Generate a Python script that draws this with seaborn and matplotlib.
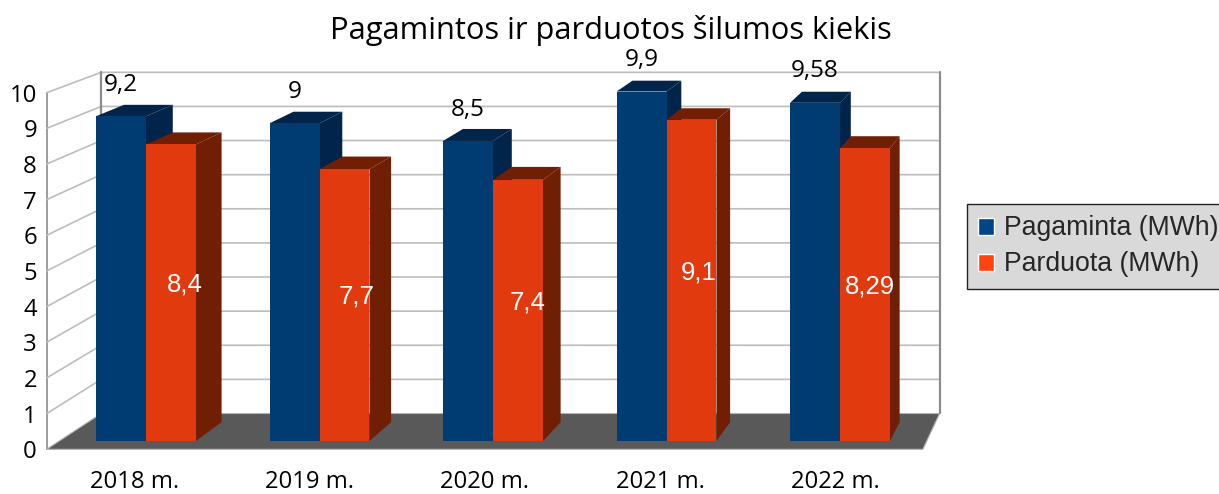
import numpy as np
import pandas as pd
import matplotlib
matplotlib.use("Agg")
import matplotlib.pyplot as plt
import seaborn as sns
from matplotlib.patches import Patch, Polygon

# === DATA ===
metai = ["2018 m.", "2019 m.", "2020 m.", "2021 m.", "2022 m."]
pagaminta = [9.2, 9, 8.5, 9.9, 9.58]
parduota = [8.4, 7.7, 7.4, 9.1, 8.29]
serijos = ["Pagaminta (MWh)", "Parduota (MWh)"]
y_ticks = list(range(11))

W, H = 1219, 494

# === 3D LOOK: scale around a vanishing point (pixels) ===
VP_X, VP_Y = 1310, -380
S_AXIS = 1.0101   # plane with the axis labels
S_BAR_BACK = 0.977
S_WALL = 0.9665

# bar front plane in pixels
PX_L, PX_R, PX_T, PX_B = 59.25, 926.75, 88, 441


def fig_rect(left, right, top, bottom):
    return [left / W, 1 - bottom / H, (right - left) / W, (bottom - top) / H]


def scaled(px, s, v):
    return v + (px - v) * s


sns.set_theme(style="white")
plt.rcParams["font.family"] = ["Open Sans", "DejaVu Sans"]

df = pd.DataFrame({
    "Metai": metai * 2,
    "Serija": [serijos[0]] * 5 + [serijos[1]] * 5,
    "MWh": pagaminta + parduota,
})

fig = plt.figure(figsize=(W / 100, H / 100), dpi=100, facecolor="white")

# axis plane: real ticks and labels
ax_wall = fig.add_axes(fig_rect(scaled(PX_L, S_AXIS, VP_X), scaled(PX_R, S_AXIS, VP_X),
                                scaled(PX_T, S_AXIS, VP_Y), scaled(PX_B, S_AXIS, VP_Y)), zorder=1)
ax = fig.add_axes(fig_rect(PX_L, PX_R, PX_T, PX_B), zorder=2)

sns.barplot(data=df, x="Metai", y="MWh", hue="Serija", hue_order=serijos, order=metai,
            palette=["#003c71", "#e03a0e"], width=0.576, gap=0, saturation=1,
            legend=False, ax=ax, linewidth=0)
ax.set_xlim(-0.5, 4.5)
ax.set_ylim(0, 10)
ax.set_axis_off()

# vanishing point in data units of the bar plane
vx = -0.5 + 5 * (VP_X - PX_L) / (PX_R - PX_L)
vy = 10 * (PX_B - VP_Y) / (PX_B - PX_T)


def back(x, y, s):
    return (vx + (x - vx) * s, vy + (y - vy) * s)


# === WALLS AND FLOOR ===
ax.add_patch(Polygon([back(-0.5, 0, S_AXIS), back(4.5, 0, S_AXIS), back(4.5, 0, S_WALL), back(-0.5, 0, S_WALL)],
                     closed=True, facecolor="#595959", edgecolor="#b3b3b3", linewidth=0.8,
                     clip_on=False, zorder=0.6))
for t in y_ticks[1:]:
    pts = [back(-0.5, t, S_AXIS), back(-0.5, t, S_WALL), back(4.5, t, S_WALL)]
    ax.plot(*zip(*pts), color="#bdbdbd", linewidth=1.2, clip_on=False, zorder=0.5)
for x0 in [-0.5, 4.5]:
    pts = [back(x0, 0, S_WALL), back(x0, 10, S_WALL)]
    ax.plot(*zip(*pts), color="#8c8c8c", linewidth=1.6, clip_on=False, zorder=0.7)

# === BAR SIDES ===
shades = ["#00244a", "#701e04"]
for i, container in enumerate(ax.containers):
    for bar in container:
        x0 = bar.get_x()
        x1 = x0 + bar.get_width()
        h = bar.get_height()
        side = [(x1, 0), (x1, h), back(x1, h, S_BAR_BACK), back(x1, 0, S_BAR_BACK)]
        top = [(x0, h), (x1, h), back(x1, h, S_BAR_BACK), back(x0, h, S_BAR_BACK)]
        ax.add_patch(Polygon(side, closed=True, facecolor=shades[i], linewidth=0, clip_on=False, zorder=2 + 2 * i))
        ax.add_patch(Polygon(top, closed=True, facecolor=shades[i], linewidth=0, clip_on=False, zorder=2 + 2 * i))
        bar.set_zorder(3 + 2 * i)
        bar.set_clip_on(False)

# === VALUE LABELS ===
ax.bar_label(ax.containers[0], labels=[str(v).replace(".", ",") for v in pagaminta],
             padding=14, fontsize=17.5, color="black", zorder=8, clip_on=False)
for bar, v in zip(ax.containers[1], parduota):
    lx, ly = back(bar.get_x() + bar.get_width() / 2, v / 2, 0.988)
    ax.text(lx, ly, str(v).replace(".", ","), color="white", fontsize=18.5,
            family="Liberation Sans", ha="center", va="center", zorder=8)

# === AXIS PLANE ===
ax_wall.set_xlim(-0.5, 4.5)
ax_wall.set_ylim(0, 10)
ax_wall.set_xticks(range(len(metai)), metai)
ax_wall.set_yticks(y_ticks)
ax_wall.tick_params(axis="x", length=0, pad=15, labelsize=17.2, colors="black")
ax_wall.tick_params(axis="y", length=0, pad=7, labelsize=17.2, colors="black")
for name, spine in ax_wall.spines.items():
    spine.set_visible(name == "left")
ax_wall.spines["left"].set_color("#8c8c8c")
ax_wall.spines["left"].set_linewidth(1.2)
ax_wall.patch.set_visible(False)

# === TITLE AND LEGEND ===
fig.text(611 / W, 1 - 30 / H, "Pagamintos ir parduotos šilumos kiekis",
         ha="center", va="center", fontsize=22.2, color="black")

handles = [Patch(facecolor="#004586", label=serijos[0]), Patch(facecolor="#ff420e", label=serijos[1])]
leg = fig.legend(handles=handles, loc="upper left", bbox_to_anchor=(967 / W, 1 - 204 / H),
                 borderaxespad=0, fancybox=False, framealpha=1, facecolor="#d9d9d9", edgecolor="#222222",
                 handlelength=0.6, handleheight=0.6, handletextpad=0.34, borderpad=0.43, labelspacing=0.375,
                 prop={"family": "Liberation Sans", "size": 19.2})
leg.get_frame().set_linewidth(1)

fig.savefig("out.png", dpi=100)
